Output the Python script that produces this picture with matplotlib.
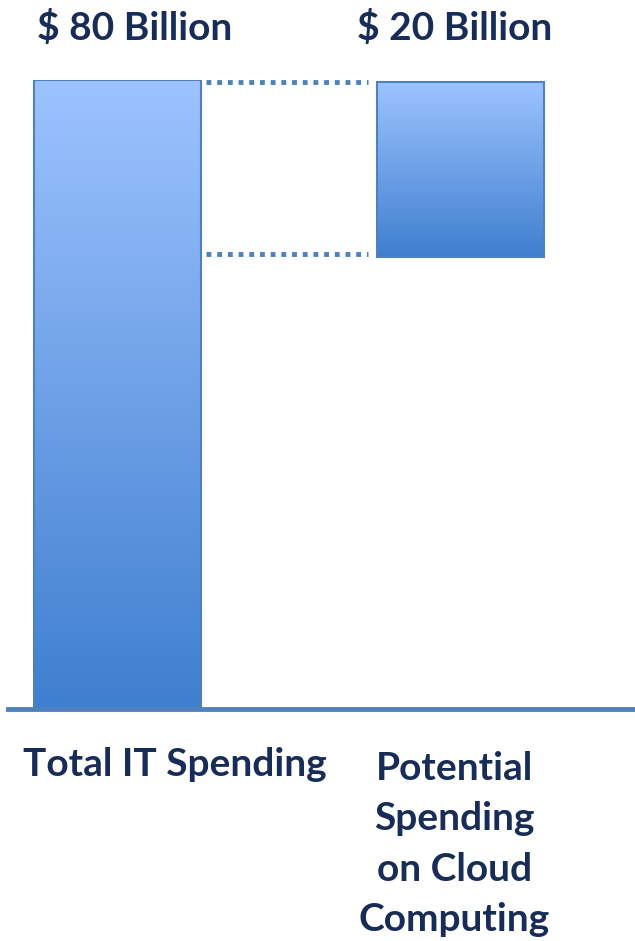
import numpy as np
import matplotlib
matplotlib.use('Agg')
import matplotlib.pyplot as plt
from matplotlib.colors import LinearSegmentedColormap
from matplotlib.transforms import blended_transform_factory

# valeurs
categories = ['Total IT Spending', 'Potential\nSpending\non Cloud\nComputing']
value_labels = ['$ 80 Billion', '$ 20 Billion']
bar_bottoms = [0.0, 57.5]
bar_tops = [80.0, 79.7]
value_x = [0.051, 0.984]
label_x = [0.168, 0.983]
label_top_px = [747, 751]

text_color = '#172c56'
edge_color = '#4f81bd'
grad = LinearSegmentedColormap.from_list('grad', ['#3f7fcf', '#9dc3ff'])

fig = plt.figure(figsize=(6.35, 9.41), dpi=100)
ax = fig.add_axes([8 / 635, 232 / 941, 627 / 635, 629 / 941])
ax.set_xlim(-0.319, 1.509)
ax.set_ylim(0, 80)

width = 0.487
for i, (b, t) in enumerate(zip(bar_bottoms, bar_tops)):
    bar = ax.bar(i, t - b, bottom=b, width=width, color='none',
                 edgecolor=edge_color, linewidth=1.5, zorder=3)[0]
    # dégradé vertical dans la barre
    img = ax.imshow(np.linspace(0, 1, 256).reshape(-1, 1), cmap=grad,
                    extent=[i - width / 2, i + width / 2, b, t],
                    origin='lower', aspect='auto', zorder=2)
    img.set_clip_path(bar)

# lignes pointillées entre les deux barres
x0 = 0 + width / 2 + 0.015
x1 = 1 - width / 2 - 0.025
for yv in [bar_tops[1] + 0.1, bar_bottoms[1] + 0.4]:
    ax.plot([x0, x1], [yv, yv], color=edge_color, linewidth=3.5,
            linestyle=(0, (1.0, 1.2)), dash_capstyle='butt', zorder=1)

for s in ['top', 'left', 'right']:
    ax.spines[s].set_visible(False)
ax.spines['bottom'].set_color(edge_color)
ax.spines['bottom'].set_linewidth(3.5)
ax.spines['bottom'].set_zorder(4)
ax.set_xticks([])
ax.set_yticks([])

trans = blended_transform_factory(ax.transData, fig.transFigure)
font = dict(family=['Lato', 'DejaVu Sans'], fontweight='bold', color=text_color)
for i, lab in enumerate(value_labels):
    ax.text(value_x[i], 1 - 28 / 941, lab, transform=trans, ha='center',
            va='center', fontsize=28, **font)

for i, cat in enumerate(categories):
    ax.text(label_x[i], 1 - label_top_px[i] / 941, cat, transform=trans,
            ha='center', va='top', fontsize=28, linespacing=1.53, **font)

fig.savefig('out.png', dpi=100)
